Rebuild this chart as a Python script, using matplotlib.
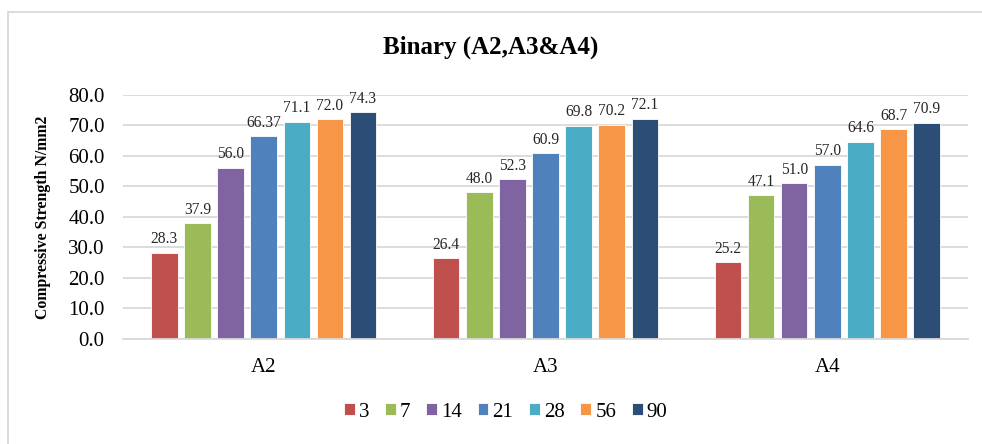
import matplotlib.pyplot as plt
import numpy as np
from matplotlib.patches import Rectangle

plt.rcParams['font.family'] = ['Liberation Serif', 'DejaVu Serif']

mixes = ['A2', 'A3', 'A4']
ages = ['3', '7', '14', '21', '28', '56', '90']
strength = {
    '3': [28.3, 26.4, 25.2],
    '7': [37.9, 48.0, 47.1],
    '14': [56.0, 52.3, 51.0],
    '21': [66.37, 60.9, 57.0],
    '28': [71.1, 69.8, 64.6],
    '56': [72.0, 70.2, 68.7],
    '90': [74.3, 72.1, 70.9],
}
colors = ['#C0504D', '#9BBB59', '#8064A2', '#4F81BD', '#4BACC6', '#F79646', '#2C4D75']


def fmt(v):
    s = f"{v:.2f}"
    return s[:-1] if s.endswith('0') else s


fig = plt.figure(figsize=(9.82, 4.44), dpi=100)
ax = fig.add_axes([0.125, 0.2365, 0.861, 0.55])

x = np.arange(len(mixes))
slot = 0.1175
width = 0.094
for i, age in enumerate(ages):
    pos = x + (i - 3) * slot
    bars = ax.bar(pos, strength[age], width=width, color=colors[i],
                  edgecolor='white', linewidth=0.6, label=age, zorder=3)
    for b, v in zip(bars, strength[age]):
        ax.annotate(fmt(v), (b.get_x() + b.get_width() / 2, v),
                    xytext=(0, 4), textcoords='offset points',
                    ha='center', va='bottom', fontsize=11.2, color='#262626')

ax.set_ylim(0, 80)
ax.set_xlim(-0.5, 2.5)
ax.set_yticks(np.arange(0, 81, 10))
ax.set_yticklabels([f"{t:.1f}" for t in np.arange(0, 81, 10)], fontsize=15)
ax.set_xticks(x)
ax.set_xticklabels(mixes, fontsize=15)
ax.tick_params(axis='y', length=0, pad=13)
ax.tick_params(axis='x', length=0, pad=14)
ax.yaxis.grid(True, color='#D9D9D9', linewidth=1.3, zorder=0)
ax.set_axisbelow(True)
for s in ['top', 'right', 'left']:
    ax.spines[s].set_visible(False)
ax.spines['bottom'].set_color('#D9D9D9')
ax.spines['bottom'].set_linewidth(1.3)
ax.spines['bottom'].set_zorder(4)

ax.set_ylabel('Compressive Strength N/mm2', fontsize=11.4, fontweight='bold')
ax.yaxis.set_label_coords(-0.085, 0.5)

fig.text(0.5, 0.894, 'Binary (A2,A3&A4)', ha='center', va='center',
         fontsize=18, fontweight='bold')

leg = fig.legend(loc='center', bbox_to_anchor=(0.515, 0.072), ncol=7,
                 frameon=False, fontsize=15, handlelength=0.52,
                 handleheight=0.52, handletextpad=0.2, columnspacing=0.75)

# chart frame
fig.patches.append(Rectangle((8 / 982, -0.1), 1.2, 1 - 12 / 444 + 0.1,
                             transform=fig.transFigure, fill=False,
                             edgecolor='#D9D9D9', linewidth=1.3))

fig.savefig('out.png', dpi=100)
